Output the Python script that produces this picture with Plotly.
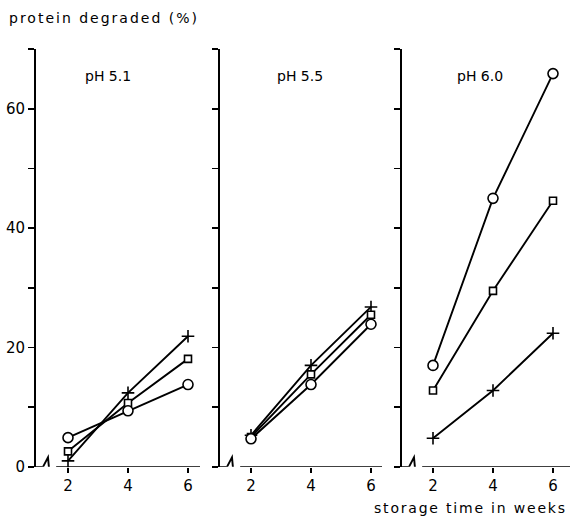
import plotly.graph_objects as go

W, H = 572, 526

weeks = [2, 4, 6]
panels = ["pH 5.1", "pH 5.5", "pH 6.0"]

circle_51 = [4.9, 9.4, 13.8]
square_51 = [2.6, 10.7, 18.1]
plus_51 = [1.0, 12.4, 21.9]

circle_55 = [4.7, 13.8, 23.9]
square_55 = [5.0, 15.5, 25.5]
plus_55 = [5.3, 17.0, 26.8]

circle_60 = [17.0, 45.0, 65.9]
square_60 = [12.8, 29.5, 44.6]
plus_60 = [4.8, 12.8, 22.4]

y_tickvals = [0, 10, 20, 30, 40, 50, 60, 70]
y_ticktext = ["0", "", "20", "", "40", "", "60", ""]
x_tickvals = [2, 4, 6]
x_ticktext = ["2", "4", "6"]

series = [
    (circle_51, square_51, plus_51),
    (circle_55, square_55, plus_55),
    (circle_60, square_60, plus_60),
]

FONT = "DejaVu Sans"
LW = 1.9


def px(x):
    return x / W


def py(y):
    return 1 - y / H


# panel geometry (pixels): y-axis x position, x-pixel of week 2, right end
geo = [(36, 68, 200), (220, 251, 382), (402, 433, 570)]
PX_PER_WEEK = 30.0
Y0_PX, YTOP_PX = 475, 50

fig = go.Figure()
layout = dict(
    width=W, height=H,
    margin=dict(l=0, r=0, t=0, b=0),
    paper_bgcolor="white", plot_bgcolor="white",
    showlegend=False,
    font=dict(family=FONT, color="black", size=15),
)

ydom = [py(Y0_PX), py(YTOP_PX)]
shapes = []
annotations = []

for i, ((axpx, x2px, endpx), (c, s, p)) in enumerate(zip(geo, series)):
    n = "" if i == 0 else str(i + 1)
    xr = [2 - (x2px - axpx) / PX_PER_WEEK, 2 + (endpx - x2px) / PX_PER_WEEK]
    layout["xaxis" + n] = dict(
        domain=[px(axpx), px(endpx)], range=xr, anchor="y" + n,
        showgrid=False, zeroline=False, showline=False,
        ticks="outside", ticklen=5, tickwidth=1.6, tickcolor="black",
        tickvals=x_tickvals, ticktext=x_ticktext,
        tickfont=dict(family=FONT, size=15, color="black"),
    )
    layout["yaxis" + n] = dict(
        domain=ydom, range=[0, 70], anchor="x" + n,
        showgrid=False, zeroline=False, showline=True,
        linecolor="black", linewidth=LW,
        ticks="outside", ticklen=6, tickwidth=1.6, tickcolor="black",
        tickvals=y_tickvals,
        ticktext=y_ticktext if i == 0 else [""] * len(y_tickvals),
        showticklabels=(i == 0),
        tickfont=dict(family=FONT, size=15, color="black"),
    )
    xa, ya = "x" + n, "y" + n
    # broken baseline
    x0 = xr[0]
    path = (f"M {x0},0 L {x0 + 7/30},0 L {x0 + 12/30},1.6 "
            f"L {x0 + 14/30},-2 L {x0 + 21/30},0 L {xr[1]},0")
    shapes.append(dict(type="path", path=path, xref=xa, yref=ya,
                       line=dict(color="black", width=LW), layer="above"))
    for vals, sym, size in [(p, "cross-thin", 9), (s, "square", 7), (c, "circle", 10)]:
        fig.add_trace(go.Scatter(
            x=weeks, y=vals, xaxis=xa, yaxis=ya, mode="lines+markers",
            line=dict(color="black", width=LW),
            marker=dict(symbol=sym, size=size, color="white",
                        line=dict(color="black", width=1.6)),
            cliponaxis=False, hoverinfo="skip",
        ))
    centers = [108, 300, 480]
    annotations.append(dict(text=panels[i], x=px(centers[i]), y=py(77),
                            xref="paper", yref="paper", showarrow=False,
                            xanchor="center", yanchor="middle",
                            font=dict(family=FONT, size=14, color="black")))

annotations.append(dict(text='<span style="letter-spacing:2px">protein degraded (%)</span>',
                        x=px(7), y=py(18),
                        xref="paper", yref="paper", showarrow=False,
                        xanchor="left", yanchor="middle",
                        font=dict(family=FONT, size=14, color="black")))
annotations.append(dict(text='<span style="letter-spacing:1.8px">storage time in weeks</span>',
                        x=px(569), y=py(517),
                        xref="paper", yref="paper", showarrow=False,
                        xanchor="right", yanchor="middle",
                        font=dict(family=FONT, size=14, color="black")))

layout["shapes"] = shapes
layout["annotations"] = annotations
fig.update_layout(**layout)
fig.write_html(
    "out.html",
    config={"displayModeBar": False, "staticPlot": True},
    post_script="document.body.style.margin='0px';document.body.style.overflow='hidden';",
)
